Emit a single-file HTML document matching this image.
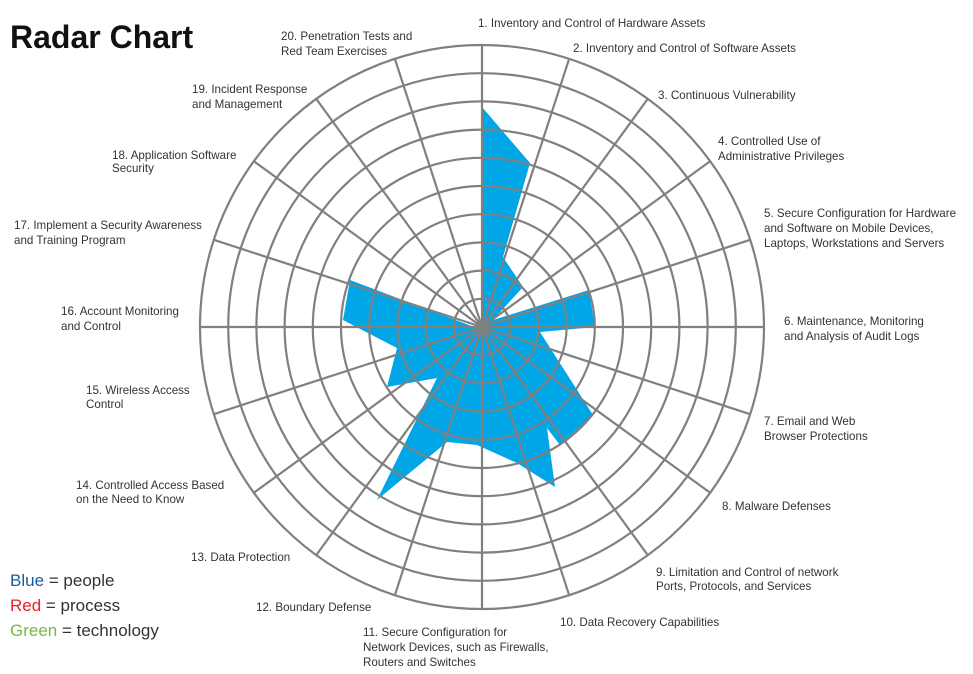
<!DOCTYPE html>
<html><head><meta charset="utf-8"><style>
html,body{margin:0;padding:0;background:#fff;}
svg{display:block;font-family:"Liberation Sans",sans-serif;}
.l{font-size:11.6px;fill:#333;}
.lg{font-size:17px;fill:#333;}
</style></head><body>
<svg width="973" height="674" viewBox="0 0 973 674" xmlns="http://www.w3.org/2000/svg">
<rect width="973" height="674" fill="#fff"/>
<text x="10" y="48" font-size="32" font-weight="bold" fill="#111">Radar Chart</text>
<polygon fill="#00a6e6" points="482,327 482,107 530,163 503,257 523,287 493,320 589,290 595,327 540,332 593,415 560,445 547,428 555,487 517,463 477,445 447,442 377,500 430,392 437,378 387,387 397,348 343,320 350,280 482,330"/>
<g fill="none" stroke="#808080" stroke-width="2.2" id="grid"></g>
<g class="l">
<text x="478" y="27">1. Inventory and Control of Hardware Assets</text>
<text x="573" y="52">2. Inventory and Control of Software Assets</text>
<text x="658" y="99">3. Continuous Vulnerability</text>
<text x="718" y="145">4. Controlled Use of</text><text x="718" y="160">Administrative Privileges</text>
<text x="764" y="217">5. Secure Configuration for Hardware</text><text x="764" y="232">and Software on Mobile Devices,</text><text x="764" y="247">Laptops, Workstations and Servers</text>
<text x="784" y="325">6. Maintenance, Monitoring</text><text x="784" y="340">and Analysis of Audit Logs</text>
<text x="764" y="425">7. Email and Web</text><text x="764" y="440">Browser Protections</text>
<text x="722" y="510">8. Malware Defenses</text>
<text x="656" y="576">9. Limitation and Control of network</text><text x="656" y="590">Ports, Protocols, and Services</text>
<text x="560" y="626">10. Data Recovery Capabilities</text>
<text x="363" y="636">11. Secure Configuration for</text><text x="363" y="651">Network Devices, such as Firewalls,</text><text x="363" y="666">Routers and Switches</text>
<text x="256" y="611">12. Boundary Defense</text>
<text x="191" y="561">13. Data Protection</text>
<text x="76" y="489">14. Controlled Access Based</text><text x="76" y="503">on the Need to Know</text>
<text x="86" y="394">15. Wireless Access</text><text x="86" y="408">Control</text>
<text x="61" y="315">16. Account Monitoring</text><text x="61" y="330">and Control</text>
<text x="14" y="229">17. Implement a Security Awareness</text><text x="14" y="244">and Training Program</text>
<text x="112" y="159">18. Application Software</text><text x="112" y="172">Security</text>
<text x="192" y="93">19. Incident Response</text><text x="192" y="108">and Management</text>
<text x="281" y="40">20. Penetration Tests and</text><text x="281" y="55">Red Team Exercises</text>
</g>
<text class="lg" x="10" y="586"><tspan fill="#1a5a9a">Blue</tspan> = people</text>
<text class="lg" x="10" y="611"><tspan fill="#e8202a">Red</tspan> = process</text>
<text class="lg" x="10" y="636"><tspan fill="#7ab648">Green</tspan> = technology</text>
<script>
var g=document.getElementById('grid'),cx=482,cy=327,R=282,ns="http://www.w3.org/2000/svg";
for(var k=1;k<=10;k++){var c=document.createElementNS(ns,'circle');c.setAttribute('cx',cx);c.setAttribute('cy',cy);c.setAttribute('r',R*k/10);g.appendChild(c);}
for(var i=0;i<20;i++){var a=i*18*Math.PI/180,l=document.createElementNS(ns,'line');l.setAttribute('x1',cx);l.setAttribute('y1',cy);l.setAttribute('x2',cx+R*Math.sin(a));l.setAttribute('y2',cy-R*Math.cos(a));g.appendChild(l);}
var d=document.createElementNS(ns,'circle');d.setAttribute('cx',cx);d.setAttribute('cy',cy);d.setAttribute('r',6);d.setAttribute('fill','#808080');g.appendChild(d);
</script>
</svg>
</body></html>
